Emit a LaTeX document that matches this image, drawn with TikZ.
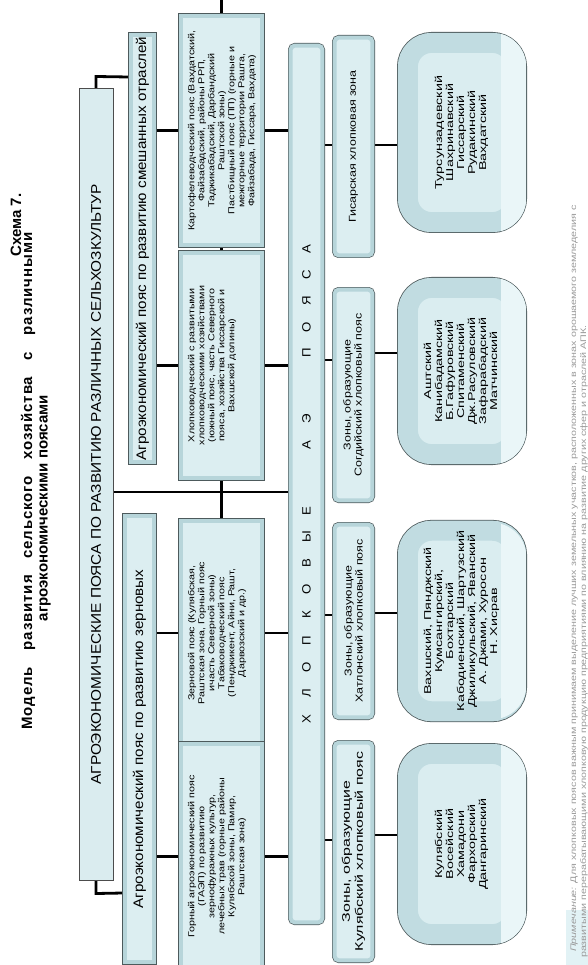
\documentclass[tikz,border=0pt]{standalone}
\usepackage{fontspec}
\setmainfont{Liberation Sans}
\newfontfamily\fa[FakeStretch=1.25]{Liberation Sans}
\newfontfamily\fb[FakeStretch=1.45]{Liberation Sans}
\newfontfamily\fc[FakeStretch=1.1]{Liberation Sans}
\newfontfamily\fn[FakeStretch=1.34]{Liberation Sans}
\newfontfamily\ft{Liberation Sans}
\newfontfamily\ftw[LetterSpace=6]{Liberation Sans}
\newcommand\lsp[1]{\makebox[26pt]{#1}}
\newcommand\topbox[1]{\parbox[c][67pt][t]{225pt}{\centering #1}}
\newcommand\ovt[1]{\raisebox{3pt}{\begin{tabular}{@{}c@{}}#1\end{tabular}}}
\newcommand\ovstrip[2]{\begin{scope}\clip[rounded corners=34pt] (397.8,#1) rectangle (526.2,#2);
  \fill[ovlight] (501,#1) rectangle (527,#2);\end{scope}}
\definecolor{bandc}{HTML}{B7D5DA}
\definecolor{innerc}{HTML}{DCEEF1}
\definecolor{darkc}{HTML}{4D5A5C}
\definecolor{mainfill}{HTML}{DAECEF}
\definecolor{ovband}{HTML}{C1DCE1}
\definecolor{ovinner}{HTML}{DAEDF0}
\definecolor{ovlight}{HTML}{EAF6F8}
\definecolor{notec}{HTML}{9A9A9A}
\definecolor{notebg}{HTML}{E2F2F5}
\pgfdeclarelayer{bg}
\pgfsetlayers{bg,main}
\begin{document}
\begin{tikzpicture}[x=1pt,y=-1pt,
  bx/.style={rotate=90, draw=bandc, line width=4pt, fill=innerc,
    preaction={draw=darkc, line width=5.4pt}, inner sep=0pt, align=center,
    font=\fa\fontsize{8.6}{10}\selectfont},
  rbx/.style={bx, rounded corners=4pt},
  ovl/.style={rotate=90, draw=ovband, line width=20pt, fill=ovinner,
    preaction={draw=darkc, line width=21.6pt}, rounded corners=24pt,
    inner sep=0pt, align=center, font=\fb\fontsize{9.9}{11}\selectfont},
  conn/.style={draw=black, line width=2.8pt},
  ttl/.style={rotate=90, inner sep=0pt, anchor=base, font=\ft\bfseries\fontsize{15}{17}\selectfont},
  note/.style={rotate=90, inner sep=0pt, text=notec, font=\fn\fontsize{8}{11}\selectfont}
]
\useasboundingbox (0,0) rectangle (588,965);
\begin{scope}
\clip (0,0) rectangle (588,965);
% note background
\fill[notebg] (566,910) rectangle (588,965);
% titles
\node[ttl] (t1) at (21,225) {Схема 7.};
\node[ttl, font=\ftw\bfseries\fontsize{15}{17}\selectfont] (t2) at (32,481) {\makebox[497pt][s]{Модель развития сельского хозяйства с различными}};
\node[ttl] (t3) at (47.5,508) {агроэкономическими поясами};
% main
\node[rotate=90, fill=mainfill, draw=gray!60!black, line width=1pt, inner sep=0pt,
  minimum width=791pt, minimum height=34pt, font=\fc\fontsize{14}{16}\selectfont]
  (main) at (96,484.5) {АГРОЭКОНОМИЧЕСКИЕ ПОЯСА ПО РАЗВИТИЮ РАЗЛИЧНЫХ СЕЛЬХОЗКУЛЬТУР};
% level 1
\node[bx, minimum width=427.6pt, minimum height=23.6pt, font=\fc\fontsize{13.8}{15}\selectfont]
  (smesh) at (142.5,248.5) {Агроэкономический пояс по развитию смешанных отраслей};
\node[bx, minimum width=446.6pt, minimum height=29.6pt, font=\fc\fontsize{13.8}{15}\selectfont]
  (zern) at (139.5,739) {Агроэкономический пояс по развитию зерновых};
% level 2
\node[bx, minimum width=229.6pt, minimum height=81.6pt] (kart) at (221.5,130.5)
  {\topbox{Картофелеводческий пояс (Вахдатский,\\Файзабадский, районы РРП,\\Таджикабадский, Дарбандский\\Раштской зоны)\\Пастбищный пояс (ПП) (горные и\\межгорные территории Рашта,\\Файзабада, Гиссара, Вахдата)}};
\node[bx, minimum width=209.6pt, minimum height=81.6pt] (khl2) at (221.5,365.5)
  {\topbox{Хлопководческий с развитыми\\хлопководческими хозяйствами\\(южный  пояс, часть Северного\\пояса, хозяйства Гиссарской  и\\Вахшской долины)}};
\node[bx, minimum width=204.6pt, minimum height=81.6pt] (zernp) at (221.5,633)
  {\topbox{Зерновой пояс (Кулябская,\\Раштская зона, Горный пояс\\ичасть Северной зоны)\\Табаководческий пояс\\(Пенджикент, Айни, Рашт,\\Дарвозский и др.)}};
\node[bx, minimum width=211.6pt, minimum height=81.6pt] (gorn) at (221.5,856.5)
  {\topbox{Горный агроэкономический пояс\\(ГАЭП) по развитию\\зернофуражных культур,\\лечебных трав (горные районы\\Кулябской зоны, Памир,\\Раштская зона)}};
% cotton belts
\node[rbx, minimum width=876.6pt, minimum height=31.6pt, font=\fc\fontsize{12}{14}\selectfont]
  (khl) at (306.5,484) {\lsp{Х}\lsp{Л}\lsp{О}\lsp{П}\lsp{К}\lsp{О}\lsp{В}\lsp{Ы}\lsp{Е}\hspace{40pt}\lsp{А}\lsp{Э}\hspace{40pt}\lsp{П}\lsp{О}\lsp{Я}\lsp{С}\lsp{А}};
\node[rbx, minimum width=217.6pt, minimum height=37.6pt, font=\fa\fontsize{10}{12}\selectfont]
  (gis) at (353.5,146.5) {Гисарская хлопковая зона};
\node[rbx, minimum width=210.6pt, minimum height=37.6pt, font=\fa\fontsize{10}{11}\selectfont]
  (sog) at (353.5,395) {Зоны, образующие\\Согдийский хлопковый пояс};
\node[rbx, minimum width=192.6pt, minimum height=37.6pt, font=\fa\fontsize{10}{11}\selectfont]
  (hat) at (353.5,621) {Зоны, образующие\\Хатлонский хлопковый пояс};
\node[rbx, minimum width=217.6pt, minimum height=37.6pt, font=\fb\fontsize{11}{13}\selectfont]
  (kul) at (353.5,851.5) {Зоны, образующие\\Кулябский хлопковый пояс};
% ovals
\node[ovl, minimum width=179.4pt, minimum height=108.4pt] (ov1) at (462,132.5)
  {\ovt{Турсунзадевский\\Шахринавский\\Гиссарский\\Рудакинский\\Вахдатский}};
\ovstrip{32.8}{232.2}
\node[ovl, minimum width=166.4pt, minimum height=108.4pt] (ov2) at (462,371)
  {\ovt{Аштский\\Канибадамский\\Б.Гафуровский\\Спитаменский\\Дж.Расуловский\\Зафарабадский\\Матчинский}};
\ovstrip{277.8}{464.2}
\node[ovl, minimum width=176.4pt, minimum height=108.4pt] (ov3) at (462,621)
  {\ovt{Вахшский, Пянджский\\Кумсангирский,\\Бохтарский\\Кабодиенский, Шартузский\\Джиликульский, Яванский\\А. Джами, Хуросон\\Н. Хисрав}};
\ovstrip{522.8}{719.2}
\node[ovl, minimum width=180.4pt, minimum height=108.4pt] (ov4) at (462,844)
  {\ovt{Кулябский\\Восейский\\Хамадони\\Фархорский\\Дангаринский}};
\ovstrip{743.8}{944.2}
% note
\node[note, anchor=base west] (n1) at (576,952)
  {\itshape Примечание:\upshape{} Для хлопковых поясов важным принимаем выделение лучших земельных участков, расположенных в зонах орошаемого земледелия с};
\node[note, anchor=base west] (n2) at (586,958)
  {развитыми перерабатывающими хлопковую продукцию предприятиями по влиянию на развитие других сфер и отраслей АПК.};
\coordinate (topend) at (221.5,-3);
\end{scope}
\begin{pgfonlayer}{bg}
\draw[conn] (main.east) -- ++(0,-12) -- (smesh.north |- 0,77);
\draw[conn] (main.west) -- ++(0,13) -- (zern.north |- 0,893);
\draw[conn] (main.south |- 0,492) -- (khl.north |- 0,492);
\draw[conn] (smesh.south |- kart.center) -- (kart.north);
\draw[conn] (smesh.south |- khl2.center) -- (khl2.north);
\draw[conn] (zern.south |- zernp.center) -- (zernp.north);
\draw[conn] (zern.south |- gorn.center) -- (gorn.north);
\draw[conn] (kart.south) -- (khl.north |- kart.south);
\draw[conn] (khl2.south) -- (khl.north |- khl2.south);
\draw[conn] (zernp.south) -- (khl.north |- zernp.south);
\draw[conn] (gorn.south) -- (khl.north |- gorn.south);
\draw[conn] (topend) -- (kart.east);
\draw[conn] (kart.west) -- (khl2.east);
\draw[conn] (khl2.west) -- (zernp.east);
\draw[conn] (zernp.west) -- (gorn.east);
\draw[conn] (khl.south |- 0,145) -- (gis.north |- 0,145);
\draw[conn] (khl.south |- 0,360) -- (sog.north |- 0,360);
\draw[conn] (khl.south |- 0,615) -- (hat.north |- 0,615);
\draw[conn] (khl.south |- 0,840) -- (kul.north |- 0,840);
\draw[conn] (gis.south |- 0,145) -- (ov1.north |- 0,145);
\draw[conn] (sog.south |- 0,353) -- (ov2.north |- 0,353);
\draw[conn] (hat.south |- 0,613) -- (ov3.north |- 0,613);
\draw[conn] (kul.south |- 0,835) -- (ov4.north |- 0,835);
\end{pgfonlayer}
\end{tikzpicture}
\end{document}
